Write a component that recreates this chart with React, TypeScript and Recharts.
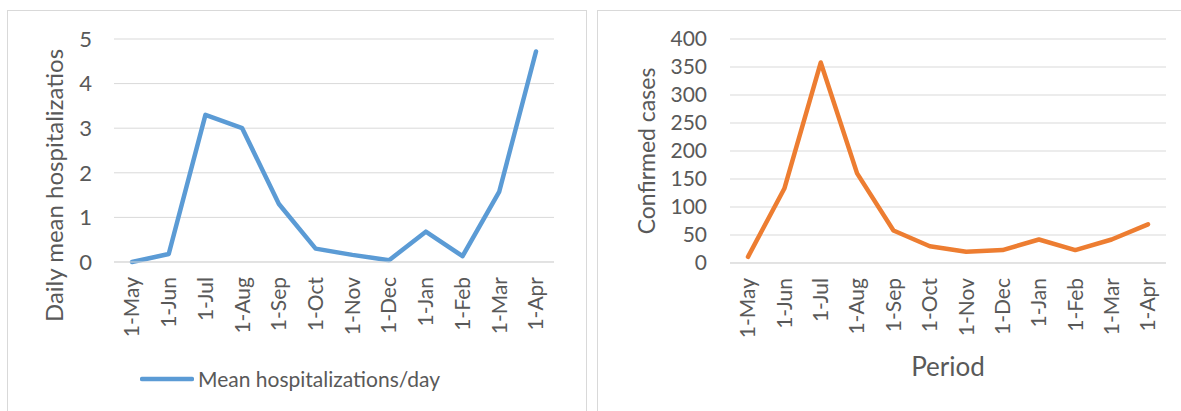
import { LineChart, Line, XAxis, YAxis, CartesianGrid, Legend, Label } from 'recharts'

const FONT = 'Lato, "Open Sans", sans-serif'
const TEXT = '#595959'
const GRID = '#d9d9d9'

// data
const months = ['1-May', '1-Jun', '1-Jul', '1-Aug', '1-Sep', '1-Oct', '1-Nov', '1-Dec', '1-Jan', '1-Feb', '1-Mar', '1-Apr']
const hospitalizations = [0, 0.18, 3.3, 3.0, 1.3, 0.3, 0.16, 0.04, 0.68, 0.13, 1.58, 4.72]
const confirmedCases = [11, 133, 358, 160, 58, 30, 20, 23, 42, 23, 42, 69]
const hospTicks = [0, 1, 2, 3, 4, 5]
const caseTicks = [0, 50, 100, 150, 200, 250, 300, 350, 400]

const hospData = months.map((m, i) => ({ month: m, value: hospitalizations[i] }))
const caseData = months.map((m, i) => ({ month: m, value: confirmedCases[i] }))

const RotatedTick = ({ x, y, payload }: any) => (
  <text
    x={x}
    y={y}
    transform={`rotate(-90, ${x}, ${y})`}
    textAnchor="end"
    dy="0.35em"
    fill={TEXT}
    fontSize={21}
    fontFamily={FONT}
  >
    {payload.value}
  </text>
)

const HospLegend = () => (
  <div style={{ display: 'flex', alignItems: 'center', height: 30, paddingLeft: 140 }}>
    <svg width={54} height={10} style={{ display: 'block' }}>
      <line x1={2} y1={5} x2={52} y2={5} stroke="#5b9bd5" strokeWidth={4.5} strokeLinecap="round" />
    </svg>
    <span style={{ marginLeft: 4, fontFamily: FONT, fontSize: 21, color: TEXT, lineHeight: '30px' }}>
      Mean hospitalizations/day
    </span>
  </div>
)

export default function App() {
  return (
    <div style={{ position: 'absolute', left: 0, top: 0, width: 1181, height: 411, background: '#fff', overflow: 'hidden' }}>
      {/* panel frames */}
      <div style={{ position: 'absolute', left: 7, top: 10, width: 578, height: 430, border: `1px solid ${GRID}` }} />
      <div style={{ position: 'absolute', left: 597, top: 10, width: 620, height: 430, border: `1px solid ${GRID}` }} />

      <div style={{ position: 'absolute', left: 0, top: 0 }}>
        <LineChart width={600} height={411} data={hospData} margin={{ top: 39, right: 46, left: 0, bottom: 17 }}>
          <CartesianGrid vertical={false} stroke={GRID} strokeWidth={1} />
          <XAxis
            dataKey="month"
            interval={0}
            height={102}
            padding={{ left: 18, right: 18 }}
            tickSize={0}
            tickMargin={15}
            axisLine={{ stroke: GRID }}
            tickLine={false}
            tick={<RotatedTick />}
          />
          <YAxis
            domain={[0, 5]}
            ticks={hospTicks}
            interval={0}
            width={114}
            tickSize={0}
            tickMargin={22}
            axisLine={false}
            tickLine={false}
            tick={{ fill: TEXT, fontSize: 22, fontFamily: FONT }}
          >
            <Label
              content={({ viewBox }: any) => {
                const cx = viewBox.x + 55
                const cy = viewBox.y + viewBox.height / 2 + 35
                return (
                  <text x={cx} y={cy} transform={`rotate(-90, ${cx}, ${cy})`} textAnchor="middle" dy="0.35em" fill={TEXT} fontSize={24} fontFamily={FONT}>
                    Daily mean hospitalizatios
                  </text>
                )
              }}
            />
          </YAxis>
          <Legend verticalAlign="bottom" content={<HospLegend />} wrapperStyle={{ left: 0, width: 600 }} />
          <Line
            type="linear"
            dataKey="value"
            stroke="#5b9bd5"
            strokeWidth={4.5}
            strokeLinejoin="round"
            strokeLinecap="round"
            dot={false}
            isAnimationActive={false}
          />
        </LineChart>
      </div>

      <div style={{ position: 'absolute', left: 590, top: 0 }}>
        <LineChart width={591} height={411} data={caseData} margin={{ top: 39, right: 15, left: 0, bottom: 0 }}>
          <CartesianGrid vertical={false} stroke={GRID} strokeWidth={1} />
          <XAxis
            dataKey="month"
            interval={0}
            height={148}
            padding={{ left: 18, right: 18 }}
            tickSize={0}
            tickMargin={15}
            axisLine={{ stroke: GRID }}
            tickLine={false}
            tick={<RotatedTick />}
          >
            <Label
              content={({ viewBox }: any) => {
                const cx = viewBox.x + viewBox.width / 2
                const cy = viewBox.y + 104
                return (
                  <text x={cx} y={cy} textAnchor="middle" dy="0.35em" fill={TEXT} fontSize={26} fontFamily={FONT}>
                    Period
                  </text>
                )
              }}
            />
          </XAxis>
          <YAxis
            domain={[0, 400]}
            ticks={caseTicks}
            interval={0}
            width={140}
            tickSize={0}
            tickMargin={23}
            axisLine={false}
            tickLine={false}
            tick={{ fill: TEXT, fontSize: 21, fontFamily: FONT }}
          >
            <Label
              content={({ viewBox }: any) => {
                const cx = viewBox.x + 57
                const cy = viewBox.y + viewBox.height / 2
                return (
                  <text x={cx} y={cy} transform={`rotate(-90, ${cx}, ${cy})`} textAnchor="middle" dy="0.35em" fill={TEXT} fontSize={23} fontFamily={FONT}>
                    Confirmed cases
                  </text>
                )
              }}
            />
          </YAxis>
          <Line
            type="linear"
            dataKey="value"
            stroke="#ed7d31"
            strokeWidth={4.5}
            strokeLinejoin="round"
            strokeLinecap="round"
            dot={false}
            isAnimationActive={false}
          />
        </LineChart>
      </div>
    </div>
  )
}
